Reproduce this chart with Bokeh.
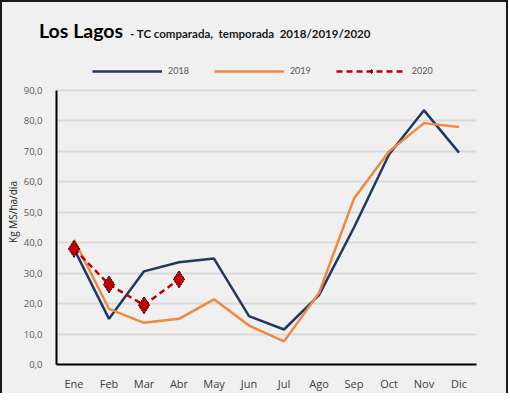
from bokeh.plotting import figure
from bokeh.models import (FactorRange, Range1d, FixedTicker, CustomJSTickFormatter,
                          Legend, LegendItem, Div)
from bokeh.layouts import column
from bokeh.embed import file_html
from bokeh.resources import INLINE

months = ["Ene", "Feb", "Mar", "Abr", "May", "Jun", "Jul", "Ago", "Sep", "Oct", "Nov", "Dic"]
s2018 = [38.0, 15.0, 30.6, 33.6, 34.8, 15.9, 11.5, 22.8, 45.0, 69.0, 83.5, 69.6]
s2019 = [41.0, 18.3, 13.7, 15.0, 21.4, 12.8, 7.6, 23.5, 54.5, 70.0, 79.3, 78.0]
m2020 = months[:4]
s2020 = [38.0, 26.3, 19.5, 28.0]
yticks = [0, 10, 20, 30, 40, 50, 60, 70, 80, 90]
title = "Los Lagos"
subtitle = "- TC comparada,&nbsp; temporada&nbsp; 2018/2019/2020"

FONT = "Lato"
AXFONT = "Open Sans"
BG = "#f0f0f0"

head = Div(text=(f'<div style="font-family:{FONT};white-space:nowrap;padding-left:32px;'
                 f'padding-top:10px;color:#000;">'
                 f'<span style="font-size:19.5px;font-weight:bold;">{title}</span>'
                 f'<span style="font-size:11.5px;font-weight:bold;margin-left:7px;'
                 f'color:#1a1a1a;">{subtitle}</span></div>'),
           width=494, height=46, styles={"background-color": BG})

# y range extends above 90 so the legend row sits inside the frame
p = figure(x_range=FactorRange(*months), y_range=Range1d(0, 100.2),
           frame_width=420, frame_height=305,
           min_border_left=45, min_border_right=29, min_border_top=1, min_border_bottom=28,
           output_backend="svg", toolbar_location=None,
           background_fill_color=BG, border_fill_color=BG, outline_line_color=None)

l18 = p.line(months, s2018, line_color="#1f3864", line_width=2.5)
l19 = p.line(months, s2019, line_color="#f0883e", line_width=2.5)
l20 = p.line(m2020, s2020, line_color="#c00000", line_width=2.5, line_dash="6 4")
d20 = p.scatter(m2020, s2020, marker="diamond", size=17, fill_color="#c00000",
                line_color="black", line_width=1, line_dash="2 1")

p.xgrid.grid_line_color = None
p.ygrid.grid_line_color = "#d9d9d9"
p.ygrid.grid_line_width = 2

p.yaxis.ticker = FixedTicker(ticks=yticks)
p.yaxis.bounds = (0, 90)
p.yaxis.formatter = CustomJSTickFormatter(code="return tick.toFixed(1).replace('.', ',');")
for ax in (p.xaxis[0], p.yaxis[0]):
    ax.major_tick_line_color = None
    ax.minor_tick_line_color = None
    ax.axis_line_color = "black"
    ax.axis_line_width = 2
    ax.major_label_text_font = AXFONT
    ax.major_label_text_color = "#595959"
p.yaxis.major_label_text_font_size = "9.5px"
p.yaxis.major_label_standoff = 8
p.xaxis.major_label_text_font_size = "11px"
p.xaxis.major_label_text_color = "#404040"
p.xaxis.major_label_standoff = 5
p.yaxis.axis_label = "Kg MS/ha/día"
p.yaxis.axis_label_text_font = AXFONT
p.yaxis.axis_label_text_font_size = "10px"
p.yaxis.axis_label_text_font_style = "normal"
p.yaxis.axis_label_text_color = "#262626"
p.yaxis.axis_label_standoff = 1

legend = Legend(items=[LegendItem(label="2018", renderers=[l18]),
                       LegendItem(label="2019", renderers=[l19]),
                       LegendItem(label="2020", renderers=[l20, d20])],
                orientation="horizontal", location=(36, 288),
                background_fill_alpha=0, border_line_color=None,
                glyph_width=70, glyph_height=10, label_standoff=6, spacing=25,
                label_text_font=FONT, label_text_font_size="9px",
                label_text_color="#595959", padding=0, margin=0)
p.add_layout(legend, "center")

page = column(head, p, styles={"border-top": "2px solid #1a1a1a",
                               "border-left": "2px solid #1a1a1a",
                               "border-right": "2px solid #1a1a1a",
                               "background-color": BG})

open("out.html", "w").write(file_html(page, INLINE))
